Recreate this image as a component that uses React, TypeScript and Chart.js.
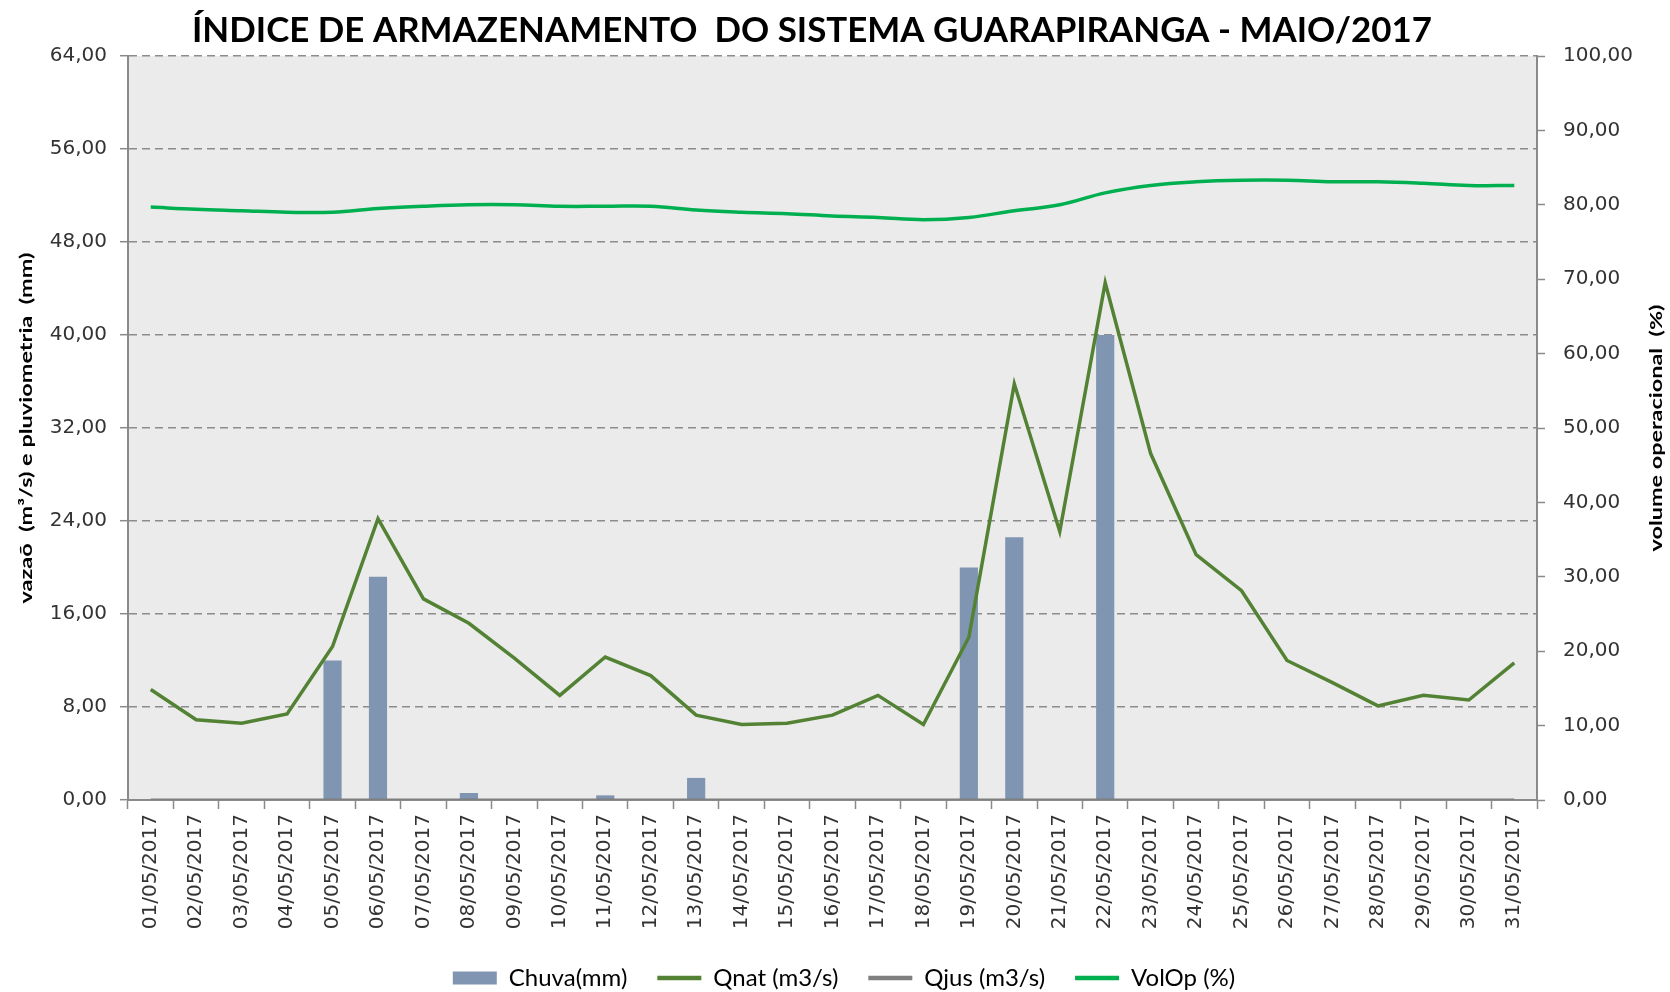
import React, { useEffect, useRef } from 'react';
import { Chart, registerables } from 'chart.js';

Chart.register(...registerables);

const TITLE = 'ÍNDICE DE ARMAZENAMENTO  DO SISTEMA GUARAPIRANGA - MAIO/2017';
const LEFT_TITLE = 'vazaõ  (m³/s) e pluviometria  (mm)';
const RIGHT_TITLE = 'volume operacional  (%)';

const categories = [
  '01/05/2017', '02/05/2017', '03/05/2017', '04/05/2017', '05/05/2017', '06/05/2017',
  '07/05/2017', '08/05/2017', '09/05/2017', '10/05/2017', '11/05/2017', '12/05/2017',
  '13/05/2017', '14/05/2017', '15/05/2017', '16/05/2017', '17/05/2017', '18/05/2017',
  '19/05/2017', '20/05/2017', '21/05/2017', '22/05/2017', '23/05/2017', '24/05/2017',
  '25/05/2017', '26/05/2017', '27/05/2017', '28/05/2017', '29/05/2017', '30/05/2017',
  '31/05/2017',
];

const chuva = [
  0, 0, 0, 0, 12.0, 19.2, 0, 0.6, 0, 0, 0.4, 0, 1.9, 0, 0, 0, 0, 0, 20.0, 22.6, 0, 40.0,
  0, 0, 0, 0, 0, 0, 0, 0, 0,
];

const qnat = [
  9.5, 6.9, 6.6, 7.4, 13.2, 24.2, 17.3, 15.2, 12.2, 9.0, 12.3, 10.7, 7.3, 6.5, 6.6, 7.3,
  9.0, 6.5, 14.0, 35.8, 23.1, 44.5, 29.8, 21.1, 18.0, 12.0, 10.1, 8.1, 9.0, 8.6, 11.8,
];

const qjus = [
  0, 0, 0, 0, 0, 0, 0, 0, 0, 0, 0, 0, 0, 0, 0, 0, 0, 0, 0, 0, 0, 0, 0, 0, 0, 0, 0, 0, 0, 0, 0,
];

const volOp = [
  79.7, 79.4, 79.2, 79.0, 79.0, 79.5, 79.8, 80.0, 80.0, 79.8, 79.8, 79.8, 79.3, 79.0, 78.8,
  78.5, 78.3, 78.0, 78.3, 79.2, 80.0, 81.6, 82.6, 83.1, 83.3, 83.3, 83.1, 83.1, 82.9, 82.6,
  82.6,
];

const leftTicks = { min: 0, max: 64, step: 8 };
const rightTicks = { min: 0, max: 100, step: 10 };

const COLORS = {
  chuva: '#7F95B1',
  qnat: '#548235',
  qjus: '#7F7F7F',
  volOp: '#00B050',
  plot: '#EBEBEB',
  axis: '#8A8A8A',
  text: '#333333',
};

const fmt = (v: number) => Number(v).toFixed(2).replace('.', ',');

function drawFitted(
  ctx: CanvasRenderingContext2D,
  text: string,
  x: number,
  y: number,
  font: string,
  width: number,
  rot: number
) {
  ctx.save();
  ctx.font = font;
  ctx.fillStyle = '#000';
  ctx.textAlign = 'center';
  ctx.textBaseline = 'middle';
  ctx.translate(x, y);
  ctx.rotate(rot);
  const w = ctx.measureText(text).width;
  ctx.scale(width / w, 1);
  ctx.fillText(text, 0, 0);
  ctx.restore();
}

const decor = {
  id: 'decor',
  beforeDraw(chart: any) {
    const { ctx, chartArea: a } = chart;
    ctx.save();
    ctx.fillStyle = COLORS.plot;
    ctx.fillRect(a.left, a.top, a.right - a.left, a.bottom - a.top);
    ctx.restore();
  },
  afterDraw(chart: any) {
    const { ctx, chartArea: a } = chart;
    const midY = (a.top + a.bottom) / 2;
    drawFitted(ctx, TITLE, 812, 31, 'bold 35px Lato', 1240, 0);
    drawFitted(ctx, LEFT_TITLE, 27, midY, 'bold 17px Lato', 351, -Math.PI / 2);
    drawFitted(ctx, RIGHT_TITLE, 1657, midY, 'bold 17px Lato', 247, -Math.PI / 2);
  },
};

export default function App() {
  const ref = useRef<HTMLCanvasElement | null>(null);

  useEffect(() => {
    document.body.style.margin = '0';
    document.body.style.overflow = 'hidden';
    const canvas = ref.current;
    if (!canvas) return;

    const chart = new Chart(canvas, {
      type: 'bar',
      data: {
        labels: categories,
        datasets: [
          {
            type: 'bar',
            label: 'Chuva(mm)',
            data: chuva,
            backgroundColor: COLORS.chuva,
            borderWidth: 0,
            yAxisID: 'y',
            barPercentage: 0.4,
            categoryPercentage: 1.0,
            order: 1,
          },
          {
            type: 'line',
            label: 'Qnat (m3/s)',
            data: qnat,
            borderColor: COLORS.qnat,
            backgroundColor: COLORS.qnat,
            borderWidth: 3.5,
            pointRadius: 0,
            tension: 0,
            yAxisID: 'y',
            order: 0,
          },
          {
            type: 'line',
            label: 'Qjus (m3/s)',
            data: qjus,
            borderColor: COLORS.qjus,
            backgroundColor: COLORS.qjus,
            borderWidth: 3,
            pointRadius: 0,
            tension: 0,
            yAxisID: 'y',
            order: 0,
          },
          {
            type: 'line',
            label: 'VolOp (%)',
            data: volOp,
            borderColor: COLORS.volOp,
            backgroundColor: COLORS.volOp,
            borderWidth: 3.5,
            pointRadius: 0,
            tension: 0.4,
            yAxisID: 'y1',
            order: 0,
          },
        ],
      },
      options: {
        responsive: false,
        animation: false,
        devicePixelRatio: 1,
        layout: { padding: { top: 56, left: 18, right: 0, bottom: -8 } },
        plugins: {
          title: { display: false },
          tooltip: { enabled: false },
          legend: {
            display: true,
            position: 'bottom',
            labels: {
              usePointStyle: true,
              pointStyleWidth: 44,
              boxHeight: 13,
              padding: 30,
              color: '#000',
              font: { family: 'Lato', size: 24 },
              generateLabels: (c: any) =>
                c.data.datasets.map((ds: any, i: number) => ({
                  text: ds.label,
                  datasetIndex: i,
                  hidden: false,
                  fillStyle: ds.type === 'bar' ? ds.backgroundColor : ds.borderColor,
                  strokeStyle: ds.type === 'bar' ? ds.backgroundColor : ds.borderColor,
                  lineWidth: ds.type === 'bar' ? 0 : 4.5,
                  pointStyle: ds.type === 'bar' ? 'rect' : 'line',
                  fontColor: '#000',
                })),
            },
          },
        },
        scales: {
          x: {
            type: 'category',
            offset: true,
            afterFit: (s: any) => {
              s.height = 136;
            },
            grid: {
              display: true,
              offset: true,
              drawOnChartArea: false,
              drawTicks: true,
              tickLength: 9,
              tickColor: COLORS.axis,
              tickWidth: 1.5,
            },
            border: { display: true, color: COLORS.axis, width: 2 },
            ticks: {
              autoSkip: false,
              maxRotation: 90,
              minRotation: 90,
              padding: 5,
              color: COLORS.text,
              font: { family: 'DejaVu Sans', size: 20 },
            },
          },
          y: {
            type: 'linear',
            position: 'left',
            min: leftTicks.min,
            max: leftTicks.max,
            afterFit: (s: any) => {
              s.width = 110;
            },
            grid: {
              display: true,
              drawOnChartArea: true,
              color: '#8C8C8C',
              lineWidth: 1.4,
              tickLength: 8,
              tickColor: COLORS.axis,
              tickWidth: 1.5,
              tickBorderDash: [],
            },
            border: { display: true, color: COLORS.axis, width: 2, dash: [8, 5] },
            ticks: {
              stepSize: leftTicks.step,
              padding: 13,
              color: COLORS.text,
              font: { family: 'DejaVu Sans', size: 20 },
              callback: (v: any) => fmt(v),
            },
          },
          y1: {
            type: 'linear',
            position: 'right',
            min: rightTicks.min,
            max: rightTicks.max,
            afterFit: (s: any) => {
              s.width = 133;
            },
            grid: {
              display: true,
              drawOnChartArea: false,
              tickLength: 8,
              tickColor: COLORS.axis,
              tickWidth: 1.5,
            },
            border: { display: true, color: COLORS.axis, width: 2 },
            ticks: {
              stepSize: rightTicks.step,
              padding: 18,
              color: COLORS.text,
              font: { family: 'DejaVu Sans', size: 20 },
              callback: (v: any) => fmt(v),
            },
          },
        },
      },
      plugins: [decor],
    } as any);

    return () => chart.destroy();
  }, []);

  return (
    <div style={{ width: 1670, height: 992, position: 'relative' }}>
      <canvas ref={ref} width={1670} height={992} style={{ display: 'block' }} />
    </div>
  );
}
